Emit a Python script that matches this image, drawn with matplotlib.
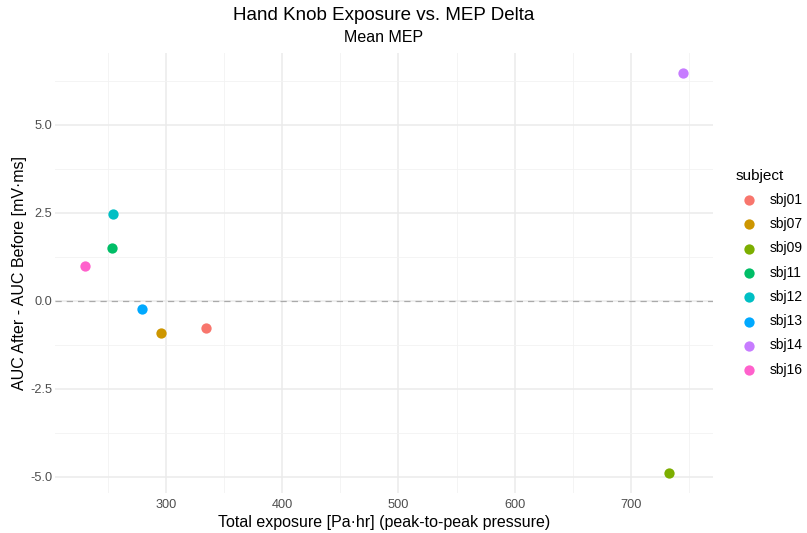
import matplotlib.pyplot as plt
from matplotlib.ticker import MultipleLocator

subjects = ["sbj01", "sbj07", "sbj09", "sbj11", "sbj12", "sbj13", "sbj14", "sbj16"]
exposure = [334.7, 295.4, 732.4, 253.5, 254.6, 279.5, 744.8, 230.3]
mep_delta = [-0.77, -0.92, -4.89, 1.51, 2.46, -0.23, 6.47, 0.99]
colors = ["#F8766D", "#CD9600", "#7CAE00", "#00BE67", "#00BFC4", "#00A9FF", "#C77CFF", "#FF61CC"]

plt.rcParams["font.family"] = ["Liberation Sans", "DejaVu Sans"]

fig = plt.figure(figsize=(8.07, 5.33), dpi=100)
ax = fig.add_axes([55 / 807, 1 - 493 / 533, (713 - 55) / 807, (493 - 53) / 533])

for s, x, y, c in zip(subjects, exposure, mep_delta, colors):
    ax.scatter(x, y, s=55, color=c, label=s, zorder=3, linewidths=0)

ax.axhline(0, color="#AAAAAA", lw=0.9, ls=(0, (5, 4)), zorder=2)

ax.set_xlim(204.6, 770.5)
ax.set_ylim(-5.46, 7.04)
ax.xaxis.set_major_locator(MultipleLocator(100))
ax.xaxis.set_minor_locator(MultipleLocator(50))
ax.yaxis.set_major_locator(MultipleLocator(2.5))
ax.yaxis.set_minor_locator(MultipleLocator(1.25))
ax.yaxis.set_major_formatter(lambda v, p: f"{v:.1f}")

ax.grid(which="major", color="#EBEBEB", lw=1.1)
ax.grid(which="minor", color="#F2F2F2", lw=0.6)
ax.set_axisbelow(True)
for sp in ax.spines.values():
    sp.set_visible(False)
ax.tick_params(which="both", length=0, labelsize=9.2, labelcolor="#4D4D4D")
ax.tick_params(axis="y", pad=2)
ax.tick_params(axis="x", pad=4)

ax.set_xlabel("Total exposure [Pa\u00b7hr] (peak-to-peak pressure)", fontsize=11.5, labelpad=3)
ax.set_ylabel("AUC After - AUC Before [mV\u00b7ms]", fontsize=11.5, labelpad=2)

fig.text(384 / 807, 1 - 15 / 533, "Hand Knob Exposure vs. MEP Delta", ha="center", va="center", fontsize=13.5)
fig.text(384 / 807, 1 - 38 / 533, "Mean MEP", ha="center", va="center", fontsize=11.5)

leg = ax.legend(title="subject", loc="upper left", bbox_to_anchor=(730 / 807, 1 - 163 / 533),
                bbox_transform=fig.transFigure, frameon=False, fontsize=10,
                title_fontsize=11, labelspacing=0.74, handletextpad=0.45,
                markerscale=1.0, borderaxespad=0)
leg._legend_box.align = "left"

fig.savefig("out.png", dpi=100)
